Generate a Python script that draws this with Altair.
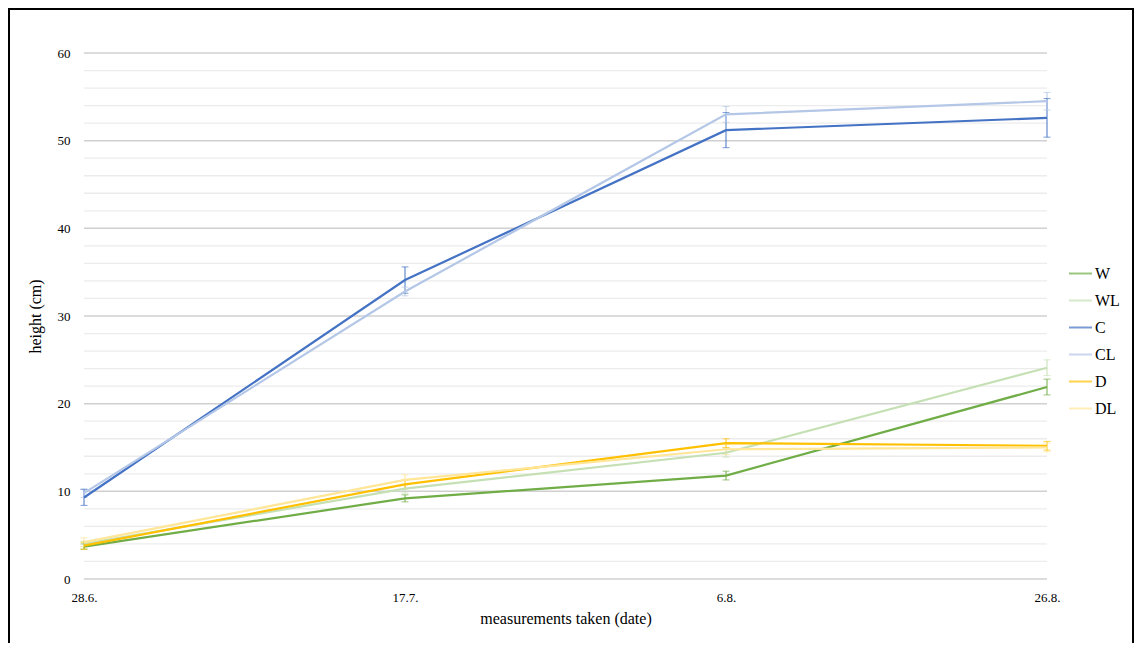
import altair as alt
import pandas as pd

dates = ["28.6.", "17.7.", "6.8.", "26.8."]
series = ["W", "WL", "C", "CL", "D", "DL"]
colors = ["#70AD47", "#C5E0B4", "#4472C4", "#B4C7E7", "#FFC000", "#FFE699"]

W = [3.7, 9.2, 11.8, 21.9]
W_err = [0.3, 0.4, 0.5, 0.9]
WL = [4.0, 10.3, 14.4, 24.1]
WL_err = [0.3, 0.5, 0.5, 0.9]
C = [9.3, 34.1, 51.2, 52.6]
C_err = [0.9, 1.5, 2.0, 2.2]
CL = [9.8, 32.8, 53.0, 54.5]
CL_err = [0.5, 0.5, 0.9, 1.0]
D = [3.8, 10.8, 15.5, 15.2]
D_err = [0.4, 0.5, 0.5, 0.5]
DL = [4.2, 11.3, 14.8, 15.0]
DL_err = [0.5, 0.6, 0.6, 0.5]

major_ticks = [0, 10, 20, 30, 40, 50, 60]
minor_ticks = [2, 4, 6, 8, 12, 14, 16, 18, 22, 24, 26, 28, 32, 34, 36, 38,
               42, 44, 46, 48, 52, 54, 56, 58]

vals = {"W": (W, W_err), "WL": (WL, WL_err), "C": (C, C_err),
        "CL": (CL, CL_err), "D": (D, D_err), "DL": (DL, DL_err)}

rows = []
for s in series:
    v, e = vals[s]
    for d, y, er in zip(dates, v, e):
        rows.append({"date": d, "series": s, "height": y,
                     "lo": y - er, "hi": y + er})
df = pd.DataFrame(rows)

FONT = "Liberation Serif"
W_PLOT, H_PLOT = 963, 526

xscale = alt.Scale(type="point", padding=0, domain=dates)
yscale = alt.Scale(domain=[0, 60], nice=False)

x_axis = alt.Axis(title="measurements taken (date)", labelAngle=0,
                  domain=False, ticks=False, grid=False,
                  labelFont=FONT, labelFontSize=13, labelColor="#000",
                  labelPadding=12, titleFont=FONT, titleFontSize=16,
                  titleFontWeight="normal", titleColor="#000",
                  titlePadding=6)
y_axis = alt.Axis(title="height (cm)", values=major_ticks, grid=False,
                  domain=False, ticks=False, labelFont=FONT,
                  labelFontSize=13, labelColor="#000", labelPadding=14,
                  titleFont=FONT, titleFontSize=16,
                  titleFontWeight="normal", titleColor="#000",
                  titlePadding=14)

def X():
    return alt.X("date:O", sort=dates, scale=xscale, axis=x_axis)

def Y(field):
    return alt.Y(field, scale=yscale, axis=y_axis)

color = alt.Color("series:N", sort=series,
                  scale=alt.Scale(domain=series, range=colors),
                  legend=alt.Legend(title=None, orient="none", legendX=984,
                                    legendY=208, symbolType="stroke",
                                    symbolSize=529, symbolStrokeWidth=2,
                                    labelFont=FONT, labelFontSize=16,
                                    labelColor="#000", rowPadding=6,
                                    labelOffset=2))

grid_minor = alt.Chart(pd.DataFrame({"v": minor_ticks})).mark_rule(
    color="#ececec", strokeWidth=1.3).encode(y=Y("v:Q"))
grid_major = alt.Chart(pd.DataFrame({"v": major_ticks})).mark_rule(
    color="#d0d0d0", strokeWidth=1.5).encode(y=Y("v:Q"))

lines = alt.Chart(df).mark_line(strokeWidth=2.2).encode(
    x=X(), y=Y("height:Q"), color=color,
)
rules = alt.Chart(df).mark_rule(strokeWidth=1).encode(
    x=X(), y=Y("lo:Q"), y2="hi:Q", color=color,
)
cap_lo = alt.Chart(df).mark_tick(size=7, thickness=1, orient="horizontal").encode(
    x=X(), y=Y("lo:Q"), color=color,
)
cap_hi = alt.Chart(df).mark_tick(size=7, thickness=1, orient="horizontal").encode(
    x=X(), y=Y("hi:Q"), color=color,
)

border = alt.Chart(pd.DataFrame({"a": [0]})).mark_rect(
    fill=None, stroke="#000", strokeWidth=2).encode(
    x=alt.value(-75), x2=alt.value(W_PLOT + 86),
    y=alt.value(-44), y2=alt.value(H_PLOT + 70),
)

chart = alt.layer(border, grid_minor, grid_major, rules, cap_lo, cap_hi, lines).properties(
    width=W_PLOT, height=H_PLOT,
    background="#ffffff",
    autosize=alt.AutoSizeParams(type="none"),
    padding={"left": 76, "top": 45, "right": 88, "bottom": 64},
).configure_view(stroke="transparent", strokeWidth=0)

chart.save("out.html", embed_options={"renderer": "svg", "actions": False})
